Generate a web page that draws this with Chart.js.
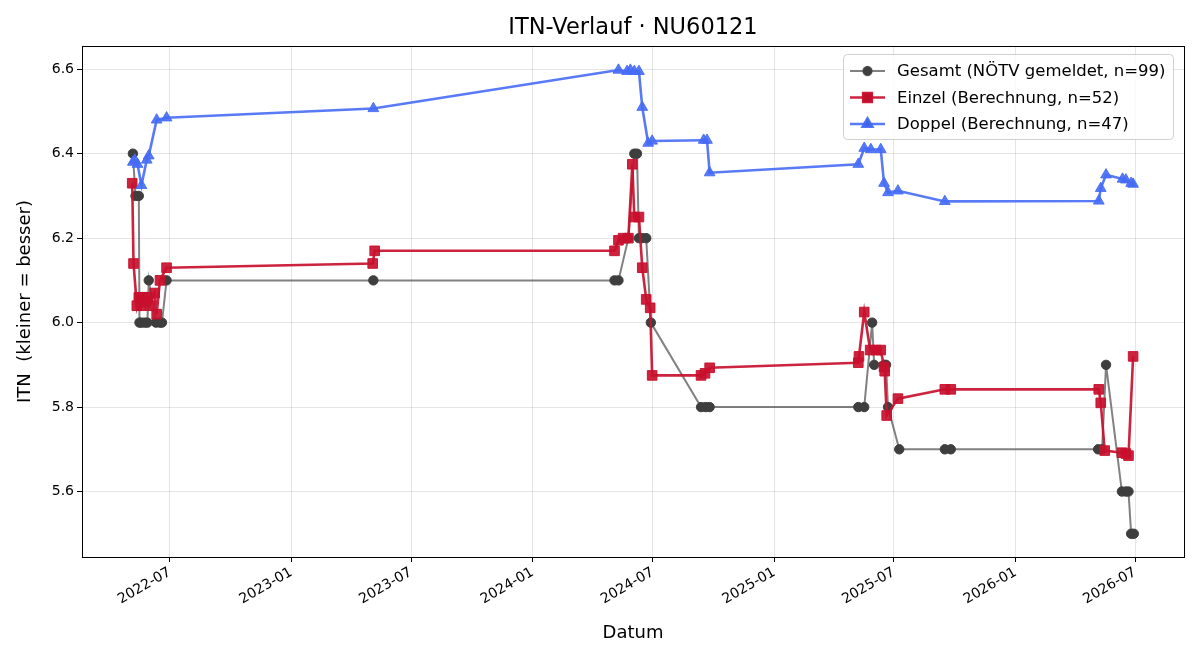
<!DOCTYPE html>
<html>
<head>
<meta charset="utf-8">
<script src="https://cdn.jsdelivr.net/npm/chart.js@4.4.1/dist/chart.umd.min.js"></script>
<style>
  html, body { margin: 0; padding: 0; background: #fff; }
  canvas { display: block; }
</style>
</head>
<body>
<canvas id="c" width="1200" height="660"></canvas>
<script>
// --- data ---
const gesamtDates = [
  '2022-05-06', '2022-05-10', '2022-05-15', '2022-05-16', '2022-05-19', '2022-05-24', '2022-05-28',
  '2022-05-30', '2022-06-10', '2022-06-16', '2022-06-19', '2022-06-26',
  '2023-05-05',
  '2024-05-04', '2024-05-10', '2024-05-25', '2024-06-03', '2024-06-07', '2024-06-10', '2024-06-15',
  '2024-06-21', '2024-06-28', '2024-09-12', '2024-09-19', '2024-09-25',
  '2025-05-08', '2025-05-17', '2025-05-29', '2025-06-01', '2025-06-16', '2025-06-19', '2025-06-22',
  '2025-07-09', '2025-09-16', '2025-09-25',
  '2026-05-06', '2026-05-12', '2026-05-18', '2026-06-11', '2026-06-17', '2026-06-21', '2026-06-25',
  '2026-06-29'
];
const gesamtValues = [
  6.4, 6.3, 6.3, 6.0, 6.0, 6.0, 6.0,
  6.1, 6.0, 6.0, 6.0, 6.1,
  6.1,
  6.1, 6.1, 6.2, 6.4, 6.4, 6.2, 6.2,
  6.2, 6.0, 5.8, 5.8, 5.8,
  5.8, 5.8, 6.0, 5.9, 5.9, 5.9, 5.8,
  5.7, 5.7, 5.7,
  5.7, 5.7, 5.9, 5.6, 5.6, 5.6, 5.5,
  5.5
];

const einzelDates = [
  '2022-05-05', '2022-05-07', '2022-05-12', '2022-05-15', '2022-05-18', '2022-05-21', '2022-05-25',
  '2022-05-28', '2022-06-01', '2022-06-08', '2022-06-11', '2022-06-16', '2022-06-26',
  '2023-05-04', '2023-05-07',
  '2024-05-04', '2024-05-10', '2024-05-17', '2024-05-25', '2024-05-31', '2024-06-03', '2024-06-10',
  '2024-06-15', '2024-06-21', '2024-06-27', '2024-06-30', '2024-09-12', '2024-09-18', '2024-09-25',
  '2025-05-08', '2025-05-09', '2025-05-17', '2025-05-26', '2025-06-04', '2025-06-11', '2025-06-16',
  '2025-06-17', '2025-06-20', '2025-07-07', '2025-09-16', '2025-09-25',
  '2026-05-07', '2026-05-10', '2026-05-16', '2026-06-11', '2026-06-17', '2026-06-21', '2026-06-28'
];
const einzelValues = [
  6.33, 6.14, 6.04, 6.06, 6.04, 6.06, 6.05,
  6.06, 6.04, 6.07, 6.02, 6.10, 6.13,
  6.14, 6.17,
  6.17, 6.195, 6.20, 6.20, 6.375, 6.25, 6.25,
  6.13, 6.055, 6.035, 5.875, 5.875, 5.88, 5.893,
  5.905, 5.92, 6.025, 5.935, 5.935, 5.935, 5.895,
  5.885, 5.78, 5.82, 5.842, 5.842,
  5.842, 5.81, 5.697, 5.692, 5.69, 5.685, 5.92
];

const doppelDates = [
  '2022-05-06', '2022-05-09', '2022-05-13', '2022-05-19', '2022-05-27', '2022-05-30', '2022-06-11',
  '2022-06-26',
  '2023-05-05',
  '2024-05-10', '2024-05-23', '2024-05-28', '2024-06-03', '2024-06-10', '2024-06-15', '2024-06-24',
  '2024-06-30', '2024-09-16', '2024-09-21', '2024-09-25',
  '2025-05-08', '2025-05-17', '2025-05-27', '2025-06-11', '2025-06-16', '2025-06-22', '2025-07-07',
  '2025-09-16',
  '2026-05-07', '2026-05-10', '2026-05-18', '2026-06-12', '2026-06-17', '2026-06-25', '2026-06-28'
];
const doppelValues = [
  6.38, 6.385, 6.375, 6.325, 6.385, 6.395, 6.48,
  6.485,
  6.507,
  6.598, 6.595, 6.598, 6.595, 6.595, 6.51, 6.425,
  6.43, 6.432, 6.432, 6.355,
  6.375, 6.413, 6.41, 6.41, 6.33, 6.308, 6.312,
  6.287,
  6.288, 6.318, 6.35, 6.34, 6.338, 6.33, 6.328
];

const seriesLabels = [
  'Gesamt (NÖTV gemeldet, n=99)',
  'Einzel (Berechnung, n=52)',
  'Doppel (Berechnung, n=47)'
];
const xTickDates = ['2022-07-01', '2023-01-01', '2023-07-01', '2024-01-01', '2024-07-01',
  '2025-01-01', '2025-07-01', '2026-01-01', '2026-07-01'];
const yTickValues = [5.6, 5.8, 6.0, 6.2, 6.4, 6.6];
const xRange = ['2022-02-18', '2026-09-13'];
const yRange = [5.445, 6.655];

const toMs = s => Date.parse(s + 'T00:00:00Z');
const fmtMonth = ms => {
    const d = new Date(ms);
    return d.getUTCFullYear() + '-' + String(d.getUTCMonth() + 1).padStart(2, '0');
};
const points = (dates, vals) => dates.map((d, i) => ({ x: toMs(d), y: vals[i] }));

const FONT = 'DejaVu Sans';
const GRAY_LINE = 'rgba(80,80,80,0.72)';
const GRAY_DOT = '#3e3e3e';
const RED = 'rgba(200,16,46,0.92)';
const BLUE = 'rgba(70,108,245,0.9)';

// axes frame like matplotlib spines
const framePlugin = {
    id: 'frame',
    afterDraw(chart) {
        const { ctx, chartArea: a } = chart;
        ctx.save();
        ctx.strokeStyle = '#000';
        ctx.lineWidth = 1;
        ctx.strokeRect(Math.round(a.left) + 0.5, Math.round(a.top) + 0.5,
            Math.round(a.right - a.left), Math.round(a.bottom - a.top));
        ctx.restore();
    }
};

const titlePlugin = {
    id: 'mtitle',
    afterDraw(chart) {
        const { ctx, chartArea: a } = chart;
        ctx.save();
        ctx.fillStyle = '#000';
        ctx.font = '22.5px "' + FONT + '"';
        ctx.textAlign = 'center';
        ctx.textBaseline = 'middle';
        ctx.fillText('ITN-Verlauf · NU60121', (a.left + a.right) / 2, 28);
        ctx.restore();
    }
};

const legendPlugin = {
    id: 'boxLegend',
    afterDraw(chart) {
        const { ctx } = chart;
        const x0 = 843, y0 = 54, w = 330, h = 85;
        ctx.save();
        ctx.beginPath();
        ctx.roundRect(x0 + 0.5, y0 + 0.5, w, h, 4);
        ctx.fillStyle = 'rgba(255,255,255,0.8)';
        ctx.fill();
        ctx.strokeStyle = '#d0d0d0';
        ctx.lineWidth = 1;
        ctx.stroke();
        ctx.font = '16.5px "' + FONT + '"';
        ctx.textBaseline = 'middle';
        chart.data.datasets.forEach((ds, i) => {
            const y = y0 + 17 + i * 26.5;
            ctx.beginPath();
            ctx.moveTo(x0 + 7, y);
            ctx.lineTo(x0 + 42, y);
            ctx.strokeStyle = ds.borderColor;
            ctx.lineWidth = ds.borderWidth;
            ctx.stroke();
            Chart.helpers.drawPoint(ctx, {
                pointStyle: ds.pointStyle, radius: ds.pointRadius * 0.9, borderWidth: 1
            }, x0 + 24.5, y);
            ctx.fillStyle = ds.pointBackgroundColor;
            ctx.strokeStyle = ds.pointBorderColor;
            ctx.lineWidth = 1;
            ctx.fill();
            ctx.stroke();
            ctx.fillStyle = '#000';
            ctx.fillText(ds.label, x0 + 54, y + 1);
        });
        ctx.restore();
    }
};

const ctx = document.getElementById('c').getContext('2d');
new Chart(ctx, {
    type: 'line',
    data: {
        datasets: [
            {
                label: seriesLabels[0],
                data: points(gesamtDates, gesamtValues),
                borderColor: GRAY_LINE,
                borderWidth: 2,
                pointStyle: 'circle',
                pointRadius: 4.7,
                pointBackgroundColor: GRAY_DOT,
                pointBorderColor: GRAY_DOT,
                pointBorderWidth: 1,
                tension: 0,
                order: 3
            },
            {
                label: seriesLabels[1],
                data: points(einzelDates, einzelValues),
                borderColor: RED,
                borderWidth: 2.6,
                pointStyle: 'rect',
                pointRadius: 6.8,
                pointBackgroundColor: RED,
                pointBorderColor: RED,
                pointBorderWidth: 1,
                tension: 0,
                order: 2
            },
            {
                label: seriesLabels[2],
                data: points(doppelDates, doppelValues),
                borderColor: BLUE,
                borderWidth: 2.6,
                pointStyle: 'triangle',
                pointRadius: 6.2,
                pointBackgroundColor: BLUE,
                pointBorderColor: BLUE,
                pointBorderWidth: 1,
                tension: 0,
                order: 1
            }
        ]
    },
    options: {
        responsive: false,
        animation: false,
        layout: { padding: { top: 46, right: 16, left: 0, bottom: 0 } },
        plugins: {
            legend: { display: false },
            title: { display: false },
            tooltip: { enabled: false }
        },
        scales: {
            x: {
                type: 'linear',
                min: toMs(xRange[0]),
                max: toMs(xRange[1]),
                afterBuildTicks: s => { s.ticks = xTickDates.map(d => ({ value: toMs(d) })); },
                afterFit: s => { s.height = 103; },
                ticks: {
                    callback: v => fmtMonth(v),
                    autoSkip: false,
                    minRotation: 30,
                    maxRotation: 30,
                    padding: 2,
                    color: '#000',
                    font: { family: FONT, size: 14 }
                },
                grid: { color: 'rgba(0,0,0,0.1)', tickColor: '#000', tickLength: 5 },
                border: { display: false },
                title: {
                    display: true,
                    text: 'Datum',
                    color: '#000',
                    font: { family: FONT, size: 18 },
                    padding: { top: 0, bottom: 16 }
                }
            },
            y: {
                min: yRange[0],
                max: yRange[1],
                afterBuildTicks: s => { s.ticks = yTickValues.map(v => ({ value: v })); },
                afterFit: s => { s.width = 82; },
                ticks: {
                    callback: v => v.toFixed(1),
                    padding: 3,
                    color: '#000',
                    font: { family: FONT, size: 14 }
                },
                grid: { color: 'rgba(0,0,0,0.1)', tickColor: '#000', tickLength: 5 },
                border: { display: false },
                title: {
                    display: true,
                    text: 'ITN  (kleiner = besser)',
                    color: '#000',
                    font: { family: FONT, size: 18 },
                    padding: { top: 15, bottom: 0 }
                }
            }
        }
    },
    plugins: [framePlugin, titlePlugin, legendPlugin]
});
</script>
</body>
</html>
